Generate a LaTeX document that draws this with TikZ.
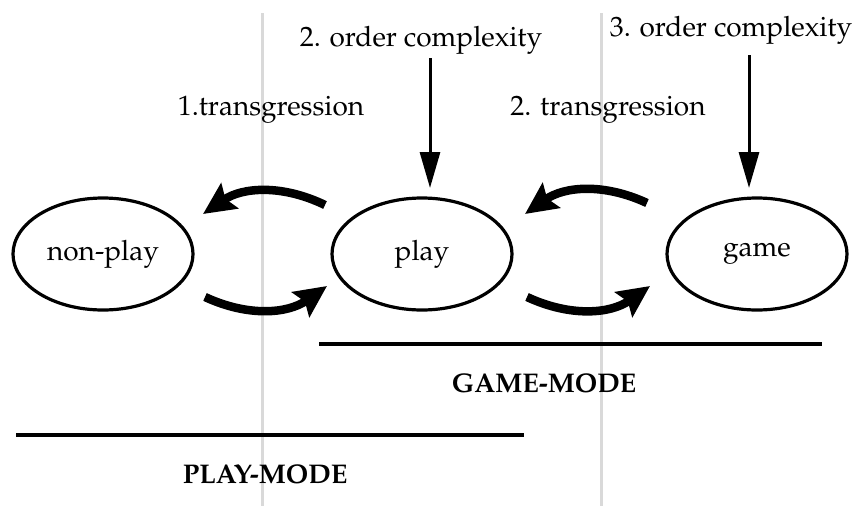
\documentclass[tikz,border=0pt]{standalone}
\usepackage[T1]{fontenc}
\usepackage{mathpazo}
\usetikzlibrary{shapes.geometric,arrows.meta}
\begin{document}
\begin{tikzpicture}[x=1pt,y=-1pt,
  txt/.style={font=\fontsize{28}{32}\selectfont, inner sep=0pt},
  btxt/.style={font=\fontsize{27}{32}\selectfont\bfseries, inner sep=0pt},
  oval/.style={ellipse, draw, line width=3.2pt, minimum width=180pt, minimum height=112pt, inner sep=0pt, font=\fontsize{28}{32}\selectfont},
  guide/.style={draw=black!15, line width=3pt},
  rule/.style={line width=4pt},
  loop/.style={line width=8.5pt, -{Stealth[length=32pt,width=30pt,inset=5pt]}},
  down/.style={line width=3pt, -{Triangle[length=36pt,width=20pt]}}]
\useasboundingbox (0,0) rectangle (853,506);
% guide lines
\coordinate (g1t) at (262,13); \coordinate (g1b) at (262,506);
\coordinate (g2t) at (601,13); \coordinate (g2b) at (601,506);
\draw[guide] (g1t) -- (g1b);
\draw[guide] (g2t) -- (g2b);
% states
\node[oval] (nonplay) at (103,254) {non-play};
\node[oval] (play) at (422,254) {play};
\node[oval] (game) at (757,254) {game};
% labels
\node[txt] (oc2) at (421,40) {2. order complexity};
\node[txt] (oc3) at (731,30) {3. order complexity};
\node[txt] (tr1) at (271,110) {1.transgression};
\node[txt] (tr2) at (608,110) {2. transgression};
% order complexity arrows
\coordinate (a2s) at (430,58); \coordinate (a2e) at (430,188);
\coordinate (a3s) at (749,55); \coordinate (a3e) at (749,188);
\draw[down] (a2s) -- (a2e);
\draw[down] (a3s) -- (a3e);
% transgression loops
\coordinate (u1s) at (325,205); \coordinate (u1e) at (203,214);
\coordinate (l1s) at (205,297); \coordinate (l1e) at (327,286);
\coordinate (u2s) at (647,203); \coordinate (u2e) at (525,214);
\coordinate (l2s) at (527,297); \coordinate (l2e) at (650,286);
\draw[loop] (u1s) to[bend right=30] (u1e);
\draw[loop] (l1s) to[bend right=30] (l1e);
\draw[loop] (u2s) to[bend right=30] (u2e);
\draw[loop] (l2s) to[bend right=30] (l2e);
% modes
\coordinate (gm1) at (319,344); \coordinate (gm2) at (822,344);
\coordinate (pm1) at (16,435); \coordinate (pm2) at (524,435);
\draw[rule] (gm1) -- (gm2);
\draw[rule] (pm1) -- (pm2);
\node[btxt] (gmode) at (544,383) {GAME-MODE};
\node[btxt] (pmode) at (265,474) {PLAY-MODE};
\end{tikzpicture}
\end{document}
